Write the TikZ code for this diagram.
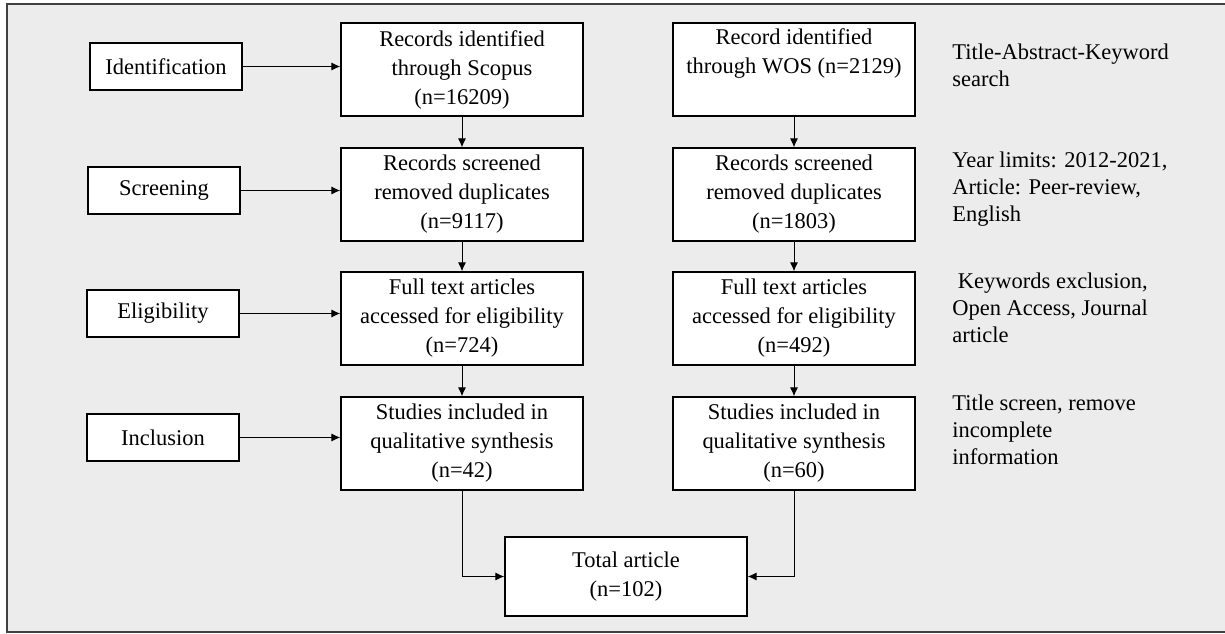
\documentclass[tikz,border=0pt]{standalone}
\usepackage{fontspec}
\setmainfont{Liberation Serif}
\usetikzlibrary{arrows.meta}
\definecolor{panelgray}{RGB}{236,236,236}
\definecolor{framegray}{RGB}{64,64,64}

\begin{document}
\begin{tikzpicture}[x=0.02cm, y=-0.02cm, >={Latex[length=5pt,width=4.5pt]},
  stage/.style={draw, fill=white, line width=0.85pt, minimum width=3.04cm, minimum height=0.94cm, inner sep=0pt, font=\fontsize{12.8}{16.5}\selectfont},
  flow/.style={draw, fill=white, line width=0.85pt, minimum width=4.84cm, minimum height=1.86cm, inner sep=0pt, align=center, font=\fontsize{12.8}{16.5}\selectfont},
  note/.style={anchor=base west, align=left, inner sep=0pt, font=\fontsize{12.8}{15.4}\selectfont}]
 \useasboundingbox (0,0) rectangle (1225,634);
 \fill[panelgray] (7,4) rectangle (1225,632);
 \draw[framegray, line width=1.1pt] (1225,4) -- (7,4) -- (7,632) -- (1225,632);

 \node[stage] (id) at (166,66.5) {Identification};
 \node[stage] (scr) at (164,190.5) {Screening};
 \node[stage] (elig) at (163,313.5) {Eligibility};
 \node[stage] (incl) at (163,437.5) {Inclusion};

 \node[flow] (s1) at (462,69.5) {Records identified\\through Scopus\\(n=16209)};
 \node[flow] (s2) at (462,194.5) {Records screened\\removed duplicates\\(n=9117)};
 \node[flow] (s3) at (462,318.5) {Full text articles\\accessed for eligibility\\(n=724)};
 \node[flow] (s4) at (462,443.5) {Studies included in\\qualitative synthesis\\(n=42)};

 \node[flow] (w1) at (794,69.5) {Record identified\\through WOS (n=2129)\\\strut};
 \node[flow] (w2) at (794,194.5) {Records screened\\removed duplicates\\(n=1803)};
 \node[flow] (w3) at (794,318.5) {Full text articles\\accessed for eligibility\\(n=492)};
 \node[flow] (w4) at (794,443.5) {Studies included in\\qualitative synthesis\\(n=60)};

 \node[flow, minimum height=1.58cm] (tot) at (626,576.5) {Total article\\(n=102)};

 \node[note] (n1) at (952,87) {Title-Abstract-Keyword\\search};
 \node[note] (n2) at (952,222) {Year limits: 2012-2021,\\Article: Peer-review,\\English};
 \node[note] (n3) at (952,343) {~Keywords exclusion,\\Open Access, Journal\\article};
 \node[note] (n4) at (952,465) {Title screen, remove\\incomplete\\information};

 \draw[->, line width=0.5pt] (id.east) -- (id.east -| s1.west);
 \draw[->, line width=0.5pt] (scr.east) -- (scr.east -| s2.west);
 \draw[->, line width=0.5pt] (elig.east) -- (elig.east -| s3.west);
 \draw[->, line width=0.5pt] (incl.east) -- (incl.east -| s4.west);

 \draw[->, line width=0.5pt] (s1) -- (s2);
 \draw[->, line width=0.5pt] (s2) -- (s3);
 \draw[->, line width=0.5pt] (s3) -- (s4);
 \draw[->, line width=0.5pt] (w1) -- (w2);
 \draw[->, line width=0.5pt] (w2) -- (w3);
 \draw[->, line width=0.5pt] (w3) -- (w4);

 \draw[->, line width=0.5pt] (s4.south) |- (tot.west);
 \draw[->, line width=0.5pt] (w4.south) |- (tot.east);
\end{tikzpicture}
\end{document}
